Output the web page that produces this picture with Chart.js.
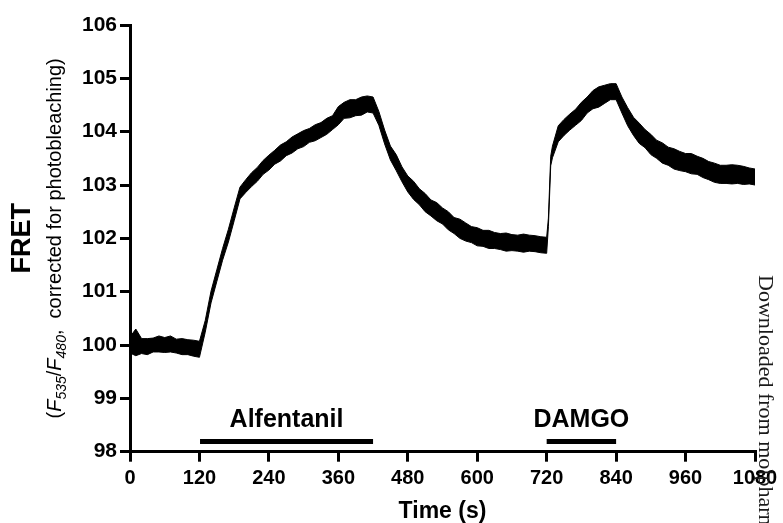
<!DOCTYPE html>
<html><head><meta charset="utf-8">
<script src="https://cdn.jsdelivr.net/npm/chart.js@4/dist/chart.umd.min.js"></script>
<style>html,body{margin:0;padding:0;background:#fff;}#wrap{width:783px;height:523px;}</style>
</head><body><div id="wrap"><canvas id="c" width="783" height="523"></canvas></div>
<script>
// ---- data ----
const times = [0,10,20,30,40,50,60,70,80,90,100,110,120,
 130,140,150,160,170,180,190,200,210,220,230,240,250,260,270,280,290,300,310,320,330,340,350,360,370,380,390,400,410,420,
 430,440,450,460,470,480,490,500,510,520,530,540,550,560,570,580,590,600,610,620,630,640,650,660,670,680,690,700,710,720,
 723,727,
 730,740,750,760,770,780,790,800,810,820,830,840,850,860,870,880,890,900,910,920,930,940,950,960,970,980,990,1000,1010,1020,1030,1040,1050,1060,1070,1080];
const fretMean = [100.0,100.05,99.98,99.97,100.0,100.02,100.0,100.02,99.98,99.97,99.96,99.94,99.92,
 100.35,100.9,101.3,101.7,102.05,102.45,102.85,102.98,103.1,103.2,103.33,103.42,103.52,103.6,103.68,103.75,103.82,103.87,103.93,103.98,104.03,104.1,104.17,104.3,104.4,104.43,104.45,104.48,104.52,104.5,
 104.25,103.9,103.6,103.42,103.2,103.02,102.9,102.78,102.67,102.57,102.5,102.42,102.33,102.24,102.18,102.12,102.07,102.03,102.0,101.98,101.96,101.94,101.93,101.92,101.91,101.91,101.91,101.9,101.88,101.87,
 102.3,103.45,
 103.62,103.96,104.08,104.18,104.27,104.38,104.5,104.6,104.65,104.7,104.75,104.75,104.5,104.28,104.1,103.97,103.87,103.76,103.67,103.6,103.54,103.49,103.45,103.42,103.4,103.37,103.32,103.27,103.23,103.2,103.2,103.2,103.2,103.18,103.17,103.15];
const fretNoise = [0.15,0.25,0.14,0.15,0.13,0.15,0.14,0.15,0.13,0.15,0.14,0.15,0.15,
 0.11,0.11,0.11,0.11,0.12,0.12,0.11,0.12,0.13,0.13,0.13,0.14,0.13,0.15,0.13,0.15,0.14,0.15,0.13,0.15,0.14,0.15,0.13,0.17,0.15,0.17,0.15,0.17,0.15,0.15,
 0.13,0.13,0.13,0.15,0.14,0.15,0.17,0.15,0.17,0.15,0.17,0.15,0.17,0.15,0.18,0.17,0.15,0.17,0.15,0.17,0.15,0.15,0.17,0.15,0.15,0.17,0.15,0.15,0.15,0.15,
 0.08,0.09,
 0.11,0.15,0.15,0.15,0.15,0.17,0.15,0.17,0.19,0.17,0.15,0.15,0.15,0.17,0.17,0.19,0.17,0.19,0.17,0.19,0.17,0.19,0.18,0.17,0.19,0.17,0.18,0.17,0.18,0.17,0.17,0.18,0.17,0.17,0.15,0.15];
const treatmentNames = ['Alfentanil','DAMGO'];
const treatmentStart = [121, 720];
const treatmentEnd = [420, 840];
const treatmentLevel = 98.19;
const xTicks = [0,120,240,360,480,600,720,840,960,1080];
const yTicks = [98,99,100,101,102,103,104,105,106];

// ---- build datasets ----
const upper = times.map((t,i)=>({x:t, y:fretMean[i]+fretNoise[i]}));
const lower = times.map((t,i)=>({x:t, y:fretMean[i]-fretNoise[i]}));
const datasets = [
 {data:upper, borderColor:'#000', borderWidth:1, pointRadius:0, tension:0, fill:false},
 {data:lower, borderColor:'#000', borderWidth:1, pointRadius:0, tension:0, fill:'-1', backgroundColor:'#000'}
];
treatmentNames.forEach((n,i)=>{
  datasets.push({data:[{x:treatmentStart[i],y:treatmentLevel},{x:treatmentEnd[i],y:treatmentLevel}],
    borderColor:'#000', borderWidth:5, pointRadius:0, borderCapStyle:'butt', fill:false});
});

const SANS = "'Liberation Sans', Arial, sans-serif";
const textPlugin = {
  id:'texts',
  afterDraw(chart){
    const ctx = chart.ctx, ca = chart.chartArea, xs = chart.scales.x, ys = chart.scales.y;
    ctx.save();
    ctx.fillStyle = '#000';
    const yc = (ca.top+ca.bottom)/2;
    ctx.save();
    ctx.translate(23, yc); ctx.rotate(-Math.PI/2);
    ctx.font = 'bold 27px '+SANS; ctx.textAlign='center'; ctx.textBaseline='middle';
    ctx.fillText('FRET', 0, 0);
    ctx.restore();
    const parts = [
      {t:'(', f:'20px '+SANS, dy:0},
      {t:'F', f:'italic 20px '+SANS, dy:0},
      {t:'535', f:'italic 14px '+SANS, dy:5},
      {t:'/', f:'20px '+SANS, dy:0},
      {t:'F', f:'italic 20px '+SANS, dy:0},
      {t:'480', f:'italic 14px '+SANS, dy:5},
      {t:',  corrected for photobleaching)', f:'20px '+SANS, dy:0}
    ];
    let total = 0;
    parts.forEach(p=>{ctx.font=p.f; p.w=ctx.measureText(p.t).width; total+=p.w;});
    ctx.save();
    ctx.translate(61, yc); ctx.rotate(-Math.PI/2);
    ctx.textAlign='left'; ctx.textBaseline='alphabetic';
    let px = -total/2;
    parts.forEach(p=>{ctx.font=p.f; ctx.fillText(p.t, px, p.dy); px+=p.w;});
    ctx.restore();
    ctx.font = 'bold 23px '+SANS; ctx.textAlign='center'; ctx.textBaseline='middle';
    ctx.fillText('Time (s)', (ca.left+ca.right)/2, 512);
    ctx.font = 'bold 25px '+SANS;
    treatmentNames.forEach((n,i)=>{
      const cx = xs.getPixelForValue((treatmentStart[i]+treatmentEnd[i])/2);
      const by = ys.getPixelForValue(treatmentLevel);
      ctx.fillText(n, cx, by-21);
    });
    ctx.save();
    ctx.translate(765, 275); ctx.rotate(Math.PI/2);
    ctx.font = "22px 'Liberation Serif', 'Times New Roman', serif";
    ctx.fillStyle = '#1a1a1a'; ctx.textAlign='left'; ctx.textBaseline='middle';
    ctx.fillText('Downloaded from molpharm.aspetjournals.org at ASPET Journals', 0, 0);
    ctx.restore();
    ctx.restore();
  }
};

new Chart(document.getElementById('c'), {
  type:'line',
  data:{datasets},
  options:{
    responsive:false, animation:false,
    layout:{padding:{left:0, right:28, top:25, bottom:0}},
    plugins:{legend:{display:false}, tooltip:{enabled:false}},
    scales:{
      x:{type:'linear', min:0, max:1080,
         afterBuildTicks:s=>{s.ticks = xTicks.map(v=>({value:v}));},
         afterFit:s=>{s.height = 71.3;},
         grid:{drawOnChartArea:false, drawTicks:true, tickLength:10, color:'#000', lineWidth:3},
         border:{display:true, color:'#000', width:3},
         ticks:{color:'#000', font:{family:SANS, size:20, weight:'bold'}, padding:5, maxRotation:0, autoSkip:false,
                callback:v=>String(v)}},
      y:{type:'linear', min:98, max:106,
         afterBuildTicks:s=>{s.ticks = yTicks.map(v=>({value:v}));},
         afterFit:s=>{s.width = 130;},
         grid:{drawOnChartArea:false, drawTicks:true, tickLength:10, color:'#000', lineWidth:3},
         border:{display:true, color:'#000', width:3},
         ticks:{color:'#000', font:{family:SANS, size:21, weight:'bold'}, padding:3, autoSkip:false,
                callback:v=>String(v)}}
    }
  },
  plugins:[textPlugin]
});
</script></body></html>
